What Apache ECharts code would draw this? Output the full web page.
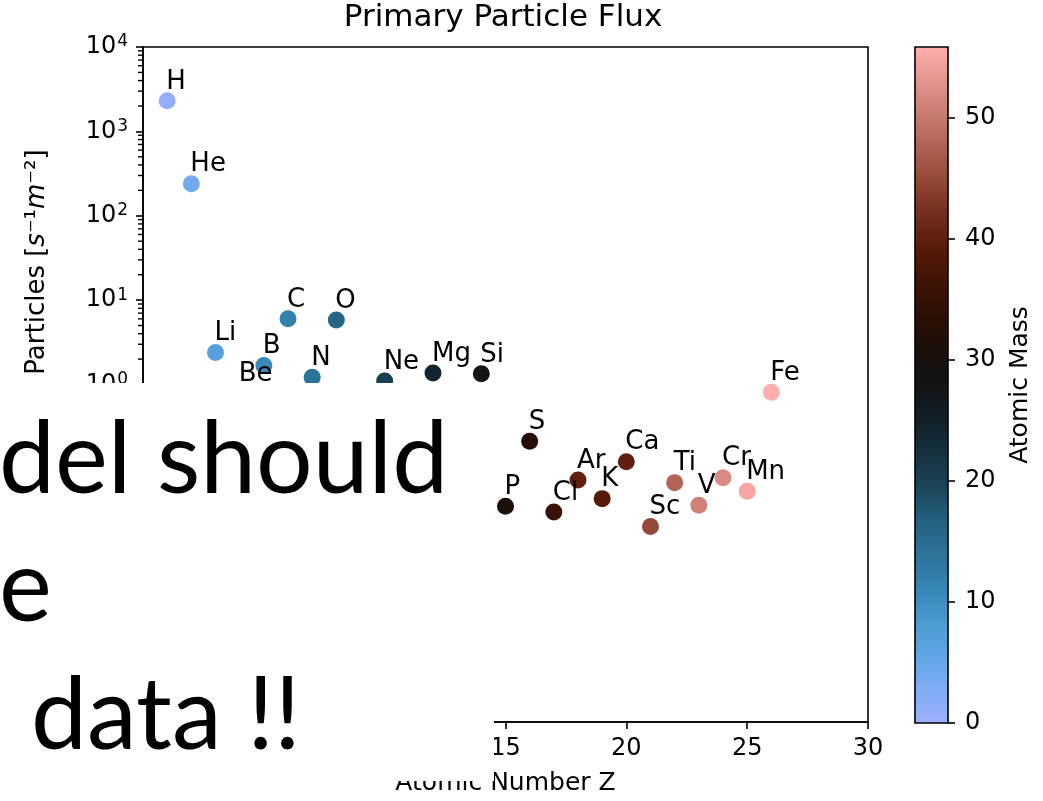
<!DOCTYPE html>
<html>
<head>
<meta charset="utf-8">
<title>Primary Particle Flux</title>
<script src="https://cdn.jsdelivr.net/npm/echarts@6/dist/echarts.min.js"></script>
<style>
  html, body { margin: 0; padding: 0; background: #fff; }
  #chart { width: 1043px; height: 801px; }
</style>
</head>
<body>
<div id="chart"></div>
<script>
// data
const elements = ["H", "He", "Li", "Be", "B", "C", "N", "O", "F", "Ne", "Na", "Mg", "Al",
  "Si", "P", "S", "Cl", "Ar", "K", "Ca", "Sc", "Ti", "V", "Cr", "Mn", "Fe"];
const atomicNumber = [1, 2, 3, 4, 5, 6, 7, 8, 9, 10, 11, 12, 13,
  14, 15, 16, 17, 18, 19, 20, 21, 22, 23, 24, 25, 26];
const flux = [2300, 240, 2.4, 0.78, 1.68, 6.0, 1.22, 5.8, 0.1, 1.1, 0.25, 1.37, 0.2,
  1.34, 0.036, 0.213, 0.0308, 0.0738, 0.0444, 0.1217, 0.0207, 0.0687, 0.037, 0.0787, 0.0542, 0.81];
const atomicMass = [1.008, 4.003, 6.94, 9.012, 10.81, 12.011, 14.007, 15.999, 18.998, 20.18, 22.99, 24.305, 26.982,
  28.085, 30.974, 32.06, 35.45, 39.948, 39.098, 40.078, 44.956, 47.867, 50.942, 51.996, 54.938, 55.845];

// tick labels (exponents of the log axis)
const yTickExp = { "-4": "−4", "-3": "−3", "-2": "−2", "-1": "−1", "0": "0",
  "1": "1", "2": "2", "3": "3", "4": "4" };
const xTicks = [0, 5, 10, 15, 20, 25, 30];
const massTicks = [0, 10, 20, 30, 40, 50];

// colormap (blue -> black -> pink), evenly spaced
const cmap = ["#9eb0ff", "#80acf6", "#5fa6e6", "#4a9ad0", "#3585b5", "#2c7398", "#246080",
  "#1b4458", "#15303e", "#111f28", "#121416", "#1c0f0a", "#2c0f05", "#3e1306", "#561a07",
  "#722c1d", "#924636", "#ae6153", "#c87b6f", "#e4958f", "#ffadad"];

const massMin = 0;
const massMax = Math.max(...atomicMass);

// minor ticks for the log axis (2..9 in each decade)
const minorTicks = [];
for (let k = -4; k < 4; k++) {
  for (let m = 2; m <= 9; m++) minorTicks.push(m * Math.pow(10, k));
}

const font = '"DejaVu Sans", sans-serif';
const points = elements.map((name, i) => [atomicNumber[i], flux[i], atomicMass[i], name]);
const gradient = new echarts.graphic.LinearGradient(0, 1, 0, 0,
  cmap.map((c, i) => ({ offset: i / (cmap.length - 1), color: c })));

const chart = echarts.init(document.getElementById("chart"), null, { renderer: "canvas" });

const axisLine = { show: true, lineStyle: { color: "#000", width: 1.6 } };
const axisTick = { show: true, inside: false, length: 7, lineStyle: { color: "#000", width: 1.6 } };

const graphics = [
  {
    type: "text", x: 37, y: 262, rotation: Math.PI / 2,
    style: {
      text: "{r|Particles [}{i|s}{r|⁻¹}{i|m}{r|⁻²]}",
      textAlign: "center", textVerticalAlign: "middle", fill: "#000",
      rich: {
        r: { font: '26px "DejaVu Sans"' },
        i: { font: 'italic 26px "DejaVu Sans"' }
      }
    }
  },
  // slide box covering the lower left part
  { type: "rect", z: 100, shape: { x: 0, y: 383, width: 494, height: 398 }, style: { fill: "#fff" } },
  { type: "text", z: 101, x: -1, y: 461, style: { text: "del should", font: "100px Lato", fill: "#000", textVerticalAlign: "middle" } },
  { type: "text", z: 101, x: -1, y: 589, style: { text: "e", font: "100px Lato", fill: "#000", textVerticalAlign: "middle" } },
  { type: "text", z: 101, x: 31, y: 717, style: { text: "data !!", font: "100px Lato", fill: "#000", textVerticalAlign: "middle" } }
];

chart.setOption({
  animation: false,
  title: {
    text: "Primary Particle Flux",
    left: 503,
    top: 2,
    padding: 0,
    textAlign: "center",
    textStyle: { fontFamily: font, fontSize: 31, fontWeight: "normal", color: "#000" }
  },
  grid: [
    { left: 143, top: 47, width: 725, height: 676, show: true, borderColor: "#000", borderWidth: 1.6 },
    { left: 915, top: 47, width: 33, height: 676, show: true, borderColor: "#000", borderWidth: 1.6, z: 5 }
  ],
  xAxis: [
    {
      type: "value", gridIndex: 0, min: xTicks[0], max: xTicks[xTicks.length - 1], interval: 5,
      axisLine, axisTick, splitLine: { show: false },
      axisLabel: { fontFamily: font, fontSize: 24, color: "#000", margin: 15 },
      name: "Atomic Number Z", nameLocation: "middle", nameGap: 49,
      nameTextStyle: { fontFamily: font, fontSize: 25, color: "#000" }
    },
    { type: "category", gridIndex: 1, data: ["mass"], show: false }
  ],
  yAxis: [
    {
      type: "log", gridIndex: 0, logBase: 10, min: 1e-4, max: 1e4, splitNumber: 8,
      axisLine, axisTick, splitLine: { show: false },
      axisLabel: {
        color: "#000", margin: 15,
        formatter: v => "{b|10}{s|" + (yTickExp[String(Math.round(Math.log10(v)))] || "") + "}",
        rich: {
          b: { fontFamily: font, fontSize: 24, color: "#000" },
          s: { fontFamily: font, fontSize: 17, color: "#000", verticalAlign: "top", padding: [0, 0, 10, 1] }
        }
      }
    },
    {
      type: "value", gridIndex: 1, position: "right", min: massMin, max: massMax,
      axisLine: { show: false }, splitLine: { show: false },
      axisTick: Object.assign({}, axisTick, { customValues: massTicks }),
      axisLabel: { fontFamily: font, fontSize: 24, color: "#000", margin: 17, customValues: massTicks },
      name: "Atomic Mass", nameLocation: "middle", nameRotate: 90, nameGap: 60,
      nameTextStyle: { fontFamily: font, fontSize: 25, color: "#000" }
    }
  ],
  visualMap: {
    type: "continuous", show: false, seriesIndex: 0, dimension: 2,
    min: massMin, max: massMax, inRange: { color: cmap }
  },
  series: [
    {
      type: "scatter", xAxisIndex: 0, yAxisIndex: 0, data: points,
      symbolSize: 17,
      itemStyle: { opacity: 1 },
      label: {
        show: true, position: "inside", align: "left", verticalAlign: "bottom", offset: [-1, -6],
        fontFamily: font, fontSize: 26, color: "#000",
        formatter: p => p.data[3]
      },
      z: 3
    },
    {
      type: "bar", xAxisIndex: 1, yAxisIndex: 1, data: [massMax],
      barWidth: "100%", itemStyle: { color: gradient }, silent: true
    }
  ],
  graphic: graphics
});

// minor ticks on the left spine, placed through the log axis
const spineX = chart.convertToPixel({ xAxisIndex: 0 }, xTicks[0]);
minorTicks.forEach(v => {
  const y = chart.convertToPixel({ yAxisIndex: 0 }, v);
  graphics.push({
    type: "line", z: 50, silent: true,
    shape: { x1: spineX - 5, y1: y, x2: spineX, y2: y },
    style: { stroke: "#000", lineWidth: 1.4 }
  });
});
chart.setOption({ graphic: graphics });
</script>
</body>
</html>
